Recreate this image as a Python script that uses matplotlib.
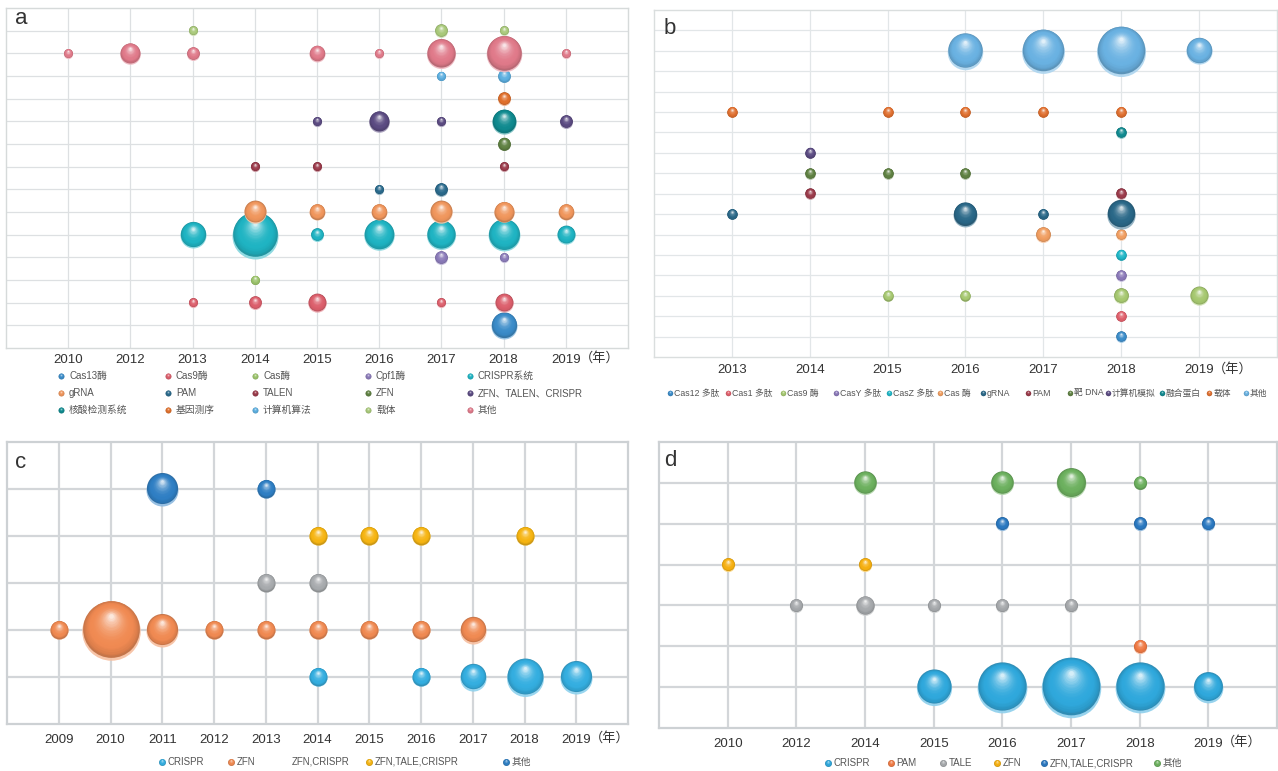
import numpy as np
import matplotlib
matplotlib.use('Agg')
from matplotlib import pyplot as plt
from matplotlib.colors import to_rgb
from matplotlib.transforms import offset_copy

plt.rcParams['font.family'] = ['Liberation Sans', 'Noto Sans CJK SC']

# ---- panel a ----
A_YEARS = ['2010', '2012', '2013', '2014', '2015', '2016', '2017', '2018', '2019']
A_CATS = ['Cas13酶', 'Cas9酶', 'Cas酶', 'Cpf1酶', 'CRISPR系统',
          'gRNA', 'PAM', 'TALEN', 'ZFN', 'ZFN、TALEN、CRISPR',
          '核酸检测系统', '基因测序', '计算机算法', '载体', '其他']
A_LEVEL = [1, 2, 3, 4, 5, 6, 7, 8, 9, 10, 10, 11, 12, 14, 13]
A_COLORS = ['#3b8cc9', '#dc5f6c', '#9cc46c', '#8b7bb9', '#1fb4c3',
            '#f0965c', '#2a6a8c', '#9a3a4a', '#5f8142', '#5b4b82',
            '#0f8a8f', '#e0702c', '#5cafe0', '#a9c97a', '#e07a8a']
A_VALUES = [
    [0, 0, 0, 0, 0, 0, 0, 8, 0],
    [0, 0, 1, 2, 4, 0, 1, 4, 0],
    [0, 0, 0, 1, 0, 0, 0, 0, 0],
    [0, 0, 0, 0, 0, 0, 2, 1, 0],
    [0, 0, 8, 25, 2, 11, 10, 12, 4],
    [0, 0, 0, 6, 3, 3, 6, 5, 3],
    [0, 0, 0, 0, 0, 1, 2, 0, 0],
    [0, 0, 0, 1, 1, 0, 0, 1, 0],
    [0, 0, 0, 0, 0, 0, 0, 2, 0],
    [0, 0, 0, 0, 1, 5, 1, 0, 2],
    [0, 0, 0, 0, 0, 0, 0, 7, 0],
    [0, 0, 0, 0, 0, 0, 0, 2, 0],
    [0, 0, 0, 0, 0, 0, 1, 2, 0],
    [0, 0, 1, 0, 0, 0, 2, 1, 0],
    [1, 5, 2, 0, 3, 1, 10, 15, 1],
]

# ---- panel b ----
B_YEARS = ['2013', '2014', '2015', '2016', '2017', '2018', '2019']
B_CATS = ['Cas12 多肽', 'Cas1 多肽', 'Cas9 酶', 'CasY 多肽', 'CasZ 多肽', 'Cas 酶',
          'gRNA', 'PAM', '靶 DNA', '计算机模拟', '融合蛋白', '载体', '其他']
B_LEVEL = [1, 2, 3, 4, 5, 6, 7, 8, 9, 10, 11, 12, 15]
B_COLORS = ['#3b8cc9', '#e0606c', '#a6c870', '#8b79b9', '#20b7c7', '#f19e60',
            '#2a6888', '#9a3a4a', '#5f8142', '#5b4b82', '#108a90', '#e07030', '#6ab2e2']
B_VALUES = [
    [0, 0, 0, 0, 0, 1, 0],
    [0, 0, 0, 0, 0, 1, 0],
    [0, 0, 1, 1, 0, 2, 3],
    [0, 0, 0, 0, 0, 1, 0],
    [0, 0, 0, 0, 0, 1, 0],
    [0, 0, 0, 0, 2, 1, 0],
    [1, 0, 0, 5, 1, 7, 0],
    [0, 1, 0, 0, 0, 1, 0],
    [0, 1, 1, 1, 0, 0, 0],
    [0, 1, 0, 0, 0, 0, 0],
    [0, 0, 0, 0, 0, 1, 0],
    [1, 0, 1, 1, 1, 1, 0],
    [0, 0, 0, 11, 16, 21, 6],
]

# ---- panel c ----
C_YEARS = ['2009', '2010', '2011', '2012', '2013', '2014', '2015', '2016', '2017', '2018', '2019']
C_CATS = ['CRISPR', 'ZFN', 'ZFN,CRISPR', 'ZFN,TALE,CRISPR', '其他']
C_COLORS = ['#34aee0', '#f08a52', '#a8abae', '#f6b512', '#2f7fc4']
C_VALUES = [
    [0, 0, 0, 0, 0, 1, 0, 1, 2, 4, 3],
    [1, 10, 3, 1, 1, 1, 1, 1, 2, 0, 0],
    [0, 0, 0, 0, 1, 1, 0, 0, 0, 0, 0],
    [0, 0, 0, 0, 0, 1, 1, 1, 0, 1, 0],
    [0, 0, 3, 0, 1, 0, 0, 0, 0, 0, 0],
]

# ---- panel d ----
D_YEARS = ['2010', '2012', '2014', '2015', '2016', '2017', '2018', '2019']
D_CATS = ['CRISPR', 'PAM', 'TALE', 'ZFN', 'ZFN,TALE,CRISPR', '其他']
D_COLORS = ['#2fa8dc', '#f07a44', '#a6a9ac', '#f6b010', '#2a78c0', '#6cb05e']
D_VALUES = [
    [0, 0, 0, 7, 14, 20, 14, 5],
    [0, 0, 0, 0, 0, 0, 1, 0],
    [0, 1, 2, 1, 1, 1, 0, 0],
    [1, 0, 1, 0, 0, 0, 0, 0],
    [0, 0, 0, 0, 1, 0, 1, 1],
    [0, 0, 3, 0, 3, 5, 1, 0],
]

W, H = 1278, 771
fig = plt.figure(figsize=(W / 100, H / 100), dpi=100)


def px_axes(l, t, r, b):
    return fig.add_axes([l / W, 1 - b / H, (r - l) / W, (b - t) / H])


def sphere(ax, x, y, d_px, color, z, n=22):
    # fake 3d ball: light rim below, darker shell, shrinking lighter discs towards the top
    r = d_px * 0.72 / 2
    c = np.array(to_rgb(color))
    dark = c * 0.8
    light = c + (1 - c) * 0.8
    rim = c + (1 - c) * 0.45
    tr = offset_copy(ax.transData, fig=fig, x=0, y=-0.04 * r, units='points')
    ax.scatter([x], [y], s=(2 * r) ** 2, color=[rim], lw=0, transform=tr,
               zorder=z, alpha=0.9)
    fracs = np.linspace(0.97, 0.08, n)
    for k, f in enumerate(fracs):
        t = k / (n - 1)
        if t < 0.25:
            col = dark + (c - dark) * (t / 0.25) ** 0.5
        else:
            col = c + (light - c) * ((t - 0.25) / 0.75) ** 2.2
        tr = offset_copy(ax.transData, fig=fig, x=0, y=0.48 * r * (1 - f) + 0.03 * r,
                         units='points')
        ax.scatter([x], [y], s=(2 * r * f) ** 2, color=[col], lw=0, transform=tr,
                   zorder=z + 0.001 * (k + 1), alpha=0.92 if k == 0 else 1)


def setup(ax, years, nrows, gridc, gridw, framec, framew, pad):
    n = len(years)
    ax.set_xlim(0, n + 1)
    ax.set_ylim(0, nrows + 1)
    ax.set_xticks(range(1, n + 1))
    ax.set_xticklabels(years)
    ax.set_yticks(range(1, nrows + 1))
    ax.set_yticklabels([])
    ax.tick_params(length=0, pad=pad, labelsize=9.5, labelcolor='#333333')
    ax.grid(True, color=gridc, lw=gridw)
    ax.set_axisbelow(True)
    for s in ax.spines.values():
        s.set_color(framec)
        s.set_linewidth(framew)
    ax.annotate('（年）', xy=(n, 0), xycoords=('data', 'axes fraction'),
                xytext=(10, -pad + 1), textcoords='offset points',
                ha='left', va='top', fontsize=9.5, color='#333333')


def bubbles(ax, values, levels, colors, base_px):
    for i, row in enumerate(values):
        for j, v in enumerate(row):
            if v > 0:
                sphere(ax, j + 1, levels[i], base_px * np.sqrt(v), colors[i], 2 + i * 0.05)


axa = px_axes(6, 8, 628, 348)
setup(axa, A_YEARS, 14, '#dde0e2', 0.9, '#d6dada', 1.0, 4)
bubbles(axa, A_VALUES, A_LEVEL, A_COLORS, 9.2)

axb = px_axes(654, 10, 1277, 357)
setup(axb, B_YEARS, 16, '#e2e6e8', 0.9, '#dadede', 1.0, 5)
bubbles(axb, B_VALUES, B_LEVEL, B_COLORS, 10.7)

axc = px_axes(7, 442, 628, 724)
setup(axc, C_YEARS, 5, '#d3d6d9', 1.6, '#cdd1d4', 1.6, 7)
bubbles(axc, C_VALUES, list(range(1, 6)), C_COLORS, 18.5)

axd = px_axes(659, 442, 1277, 728)
setup(axd, D_YEARS, 6, '#d3d6d9', 1.6, '#cdd1d4', 1.6, 7)
bubbles(axd, D_VALUES, list(range(1, 7)), D_COLORS, 13.3)

# legends and panel letters on an overlay in pixel coordinates
lax = fig.add_axes([0, 0, 1, 1])
lax.set_xlim(0, W)
lax.set_ylim(H, 0)
lax.axis('off')

leg_a_x = [61, 168, 255, 368, 470]
leg_a_y = [376, 393, 410]
for i, name in enumerate(A_CATS):
    mx, my = leg_a_x[i % 5], leg_a_y[i // 5]
    sphere(lax, mx, my, 6, A_COLORS[i], 2, n=6)
    lax.text(mx + 8, my, name, va='center', ha='left', fontsize=7, color='#555555')

leg_b_x = [670, 728, 783, 836, 889, 940, 983, 1028, 1070, 1108, 1162, 1209, 1246]
for i, name in enumerate(B_CATS):
    sphere(lax, leg_b_x[i], 393, 5.5, B_COLORS[i], 2, n=6)
    lax.text(leg_b_x[i] + 4, 393, name, va='center', ha='left', fontsize=6.3, color='#555555')

leg_c_x = [162, 231, 286, 369, 506]
for i, name in enumerate(C_CATS):
    if name != 'ZFN,CRISPR':
        sphere(lax, leg_c_x[i], 762, 7, C_COLORS[i], 2, n=6)
    lax.text(leg_c_x[i] + 5.5, 762, name, va='center', ha='left', fontsize=7, color='#555555')

leg_d_x = [828, 891, 943, 997, 1044, 1157]
for i, name in enumerate(D_CATS):
    sphere(lax, leg_d_x[i], 763, 7, D_COLORS[i], 2, n=6)
    lax.text(leg_d_x[i] + 5.5, 763, name, va='center', ha='left', fontsize=7, color='#555555')

for letter, lx, ly in [('a', 21, 19), ('b', 670, 28), ('c', 21, 462), ('d', 670, 461)]:
    lax.text(lx, ly, letter, ha='center', va='center', fontsize=16, color='#333333')

fig.savefig('out.png', dpi=100)
